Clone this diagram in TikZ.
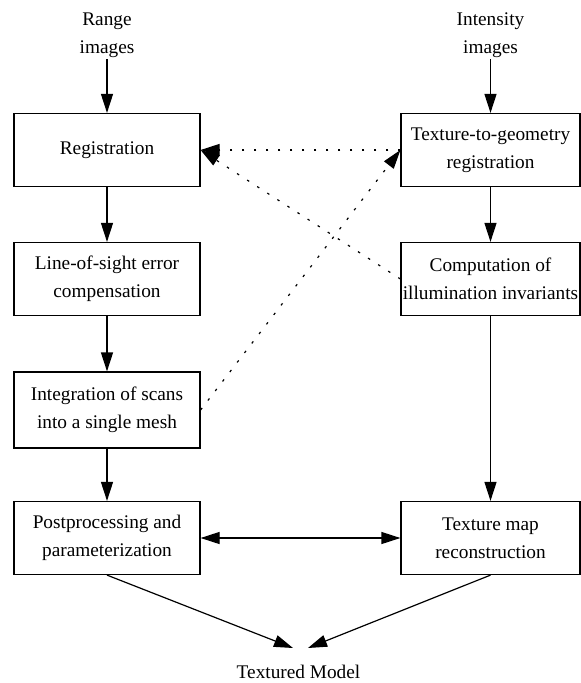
\documentclass[tikz,border=0pt]{standalone}
\usepackage{fontspec}
\setmainfont{Liberation Serif}
\usetikzlibrary{arrows.meta}
\begin{document}
\begin{tikzpicture}[x=1pt, y=-1pt, line width=1.2pt, >={Triangle[length=19pt,width=12pt]},
                      every node/.style={font=\fontsize{19.3}{28}\selectfont,align=center,inner sep=1pt},
                      box/.style={draw,inner sep=0pt,minimum height=73pt},
                      lbox/.style={box,minimum width=186pt},
                      rbox/.style={box,minimum width=179pt},
                      dots/.style={dash pattern=on 2.5pt off 9.5pt}]
                  \useasboundingbox (0,0) rectangle (581,683);
                  \node (r) at (107,35) {Range\\images};
                  \node (i) at (490.5,35) {Intensity\\images};
                  \node[lbox] (a) at (107,150) {Registration};
                  \node[lbox] (b) at (107,279) {Line-of-sight error\\compensation};
                  \node[lbox,minimum height=76pt] (c) at (107,410) {Integration of scans\\into a single mesh};
                  \node[lbox] (d) at (107,538) {Postprocessing and\\parameterization};
                  \node[rbox] (e) at (490.5,150) {Texture-to-geometry\\registration};
                  \node[rbox] (f) at (490.5,279) {Computation of\\illumination invariants};
                  \node[rbox] (g) at (490.5,538) {Texture map\\reconstruction};
                  \node (m) at (298.5,671.5) {Textured Model};
                  \coordinate (p) at (293,648);
                  \coordinate (q) at (308,648);
                  \draw[->] (r) -- (a);
                  \draw[->] (a) -- (b);
                  \draw[->] (b) -- (c);
                  \draw[->] (c) -- (d);
                  \draw[->] (i) -- (e);
                  \draw[->] (e) -- (f);
                  \draw[->] (f) -- (g);
                  \draw[<->] (d) -- (g);
                  \draw[->] (d.south) -- (p);
                  \draw[->] (g.south) -- (q);
                  \draw[->,dots] (e.west) -- (a.east);
                  \draw[->,dots] (f.west) -- (a.east);
                  \draw[->,dots] (c.east) -- (e.west);
              \end{tikzpicture}
\end{document}
